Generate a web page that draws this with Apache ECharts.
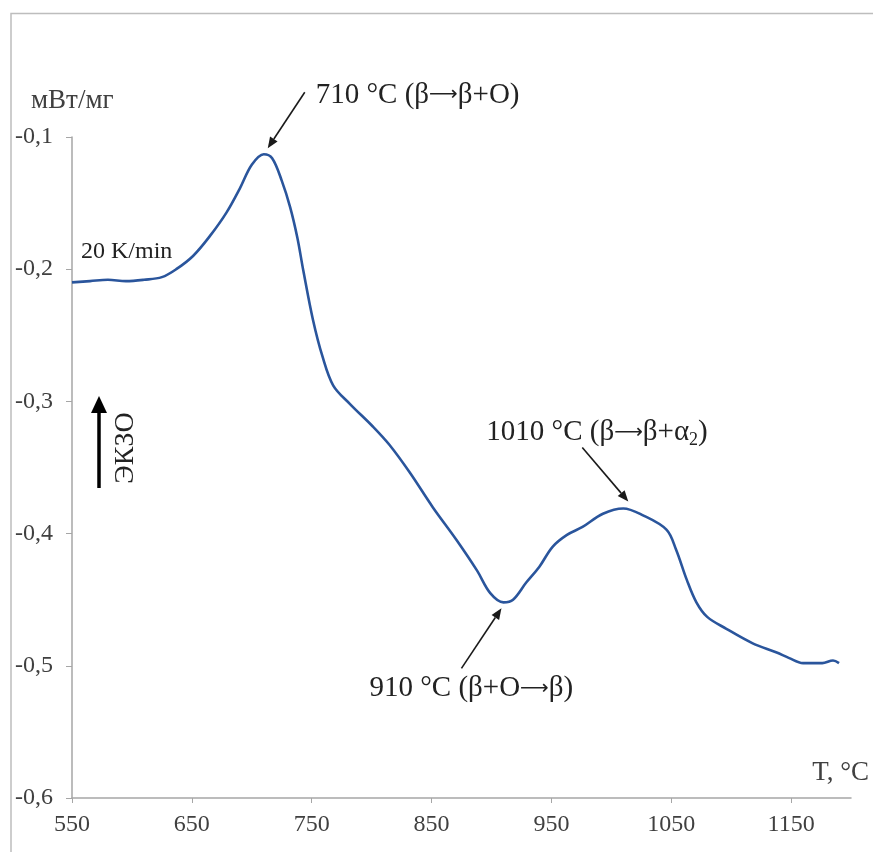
<!DOCTYPE html>
<html>
<head>
<meta charset="utf-8">
<title>ДСК: тепловой поток</title>
<script src="https://cdn.jsdelivr.net/npm/echarts@6/dist/echarts.min.js"></script>
<style>
  html, body { margin: 0; padding: 0; background: #fff; }
  #chart { width: 873px; height: 852px; }
</style>
</head>
<body>
<div id="chart"></div>
<script>
// Heating curve, 20 K/min: temperature (°C) and heat flow (mW/mg)
const temperature = [
  550, 565, 580, 595, 610, 625, 637, 651, 665, 679, 690, 700, 710, 717, 725,
  732, 738, 743, 751, 759, 768, 782, 801, 815, 832, 851, 871, 888, 899, 910,
  918, 929, 940, 951, 963, 976, 993, 1010, 1026, 1046, 1054, 1063, 1071, 1080,
  1096, 1118, 1138, 1148, 1160, 1176, 1185, 1190
];
const heatFlow = [
  -0.210, -0.209, -0.208, -0.209, -0.208, -0.206, -0.200, -0.190, -0.175, -0.157,
  -0.139, -0.121, -0.113, -0.116, -0.133, -0.153, -0.176, -0.201, -0.238, -0.266,
  -0.288, -0.302, -0.319, -0.333, -0.354, -0.380, -0.405, -0.428, -0.445, -0.452,
  -0.450, -0.437, -0.425, -0.410, -0.401, -0.395, -0.385, -0.381, -0.386, -0.397,
  -0.412, -0.435, -0.452, -0.463, -0.472, -0.483, -0.490, -0.494, -0.498, -0.498,
  -0.496, -0.498
];
const xTickValues = [550, 650, 750, 850, 950, 1050, 1150];

// Transformation peaks and their captions
const peakTemps = [710, 910, 1010];
const peakCaptions = [
  '710 °C (β{arr|⟶}β+O)',
  '910 °C (β+O{arr|⟶}β)',
  '1010 °C (β{arr|⟶}β+α{sub|2})'
];

const SERIF = "'Liberation Serif', 'Times New Roman', serif";

// Caption placement around each peak, in pixels: arrow tip, arrow tail, text anchor
const calloutLayout = [
  { tip: [4, -6],  tail: [41, -62],  text: [52, -59] },
  { tip: [-2, 6],  tail: [-42, 66],  text: [-134, 86] },
  { tip: [5, -7],  tail: [-41, -61], text: [-137, -76] }
];

const chart = echarts.init(document.getElementById('chart'), null, { renderer: 'canvas' });

const axisGrey = '#a6a6a6';
const labelGrey = '#404040';

chart.setOption({
  animation: false,
  backgroundColor: '#ffffff',
  grid: { left: 72, top: 137, right: 22, bottom: 54, containLabel: false },
  xAxis: {
    type: 'value',
    min: 550,
    max: 1200,
    axisLine: { show: true, lineStyle: { color: axisGrey, width: 1.5 } },
    axisTick: { show: true, length: 5, customValues: xTickValues, lineStyle: { color: axisGrey } },
    axisLabel: {
      customValues: xTickValues,
      margin: 15,
      color: labelGrey,
      fontFamily: SERIF,
      fontSize: 24,
      formatter: v => String(v)
    },
    splitLine: { show: false }
  },
  yAxis: {
    type: 'value',
    min: -0.6,
    max: -0.1,
    interval: 0.1,
    axisLine: { show: true, lineStyle: { color: axisGrey, width: 1.5 } },
    axisTick: { show: true, length: 6, lineStyle: { color: axisGrey } },
    axisLabel: {
      margin: 19,
      color: labelGrey,
      fontFamily: SERIF,
      fontSize: 24,
      formatter: v => v.toFixed(1).replace('.', ',')
    },
    splitLine: { show: false }
  },
  series: [{
    type: 'line',
    data: temperature.map((t, i) => [t, heatFlow[i]]),
    showSymbol: false,
    smooth: 0.35,
    lineStyle: { color: '#2a559c', width: 2.6 },
    z: 3
  }]
});

// Callout arrows and captions anchored on the peak points of the curve
function arrowHead(tip, tail, len, half) {
  const dx = tip[0] - tail[0], dy = tip[1] - tail[1];
  const d = Math.hypot(dx, dy);
  const ux = dx / d, uy = dy / d;
  const bx = tip[0] - ux * len, by = tip[1] - uy * len;
  return [tip, [bx - uy * half, by + ux * half], [bx + uy * half, by - ux * half]];
}

const graphics = [];

// Frame of the figure
graphics.push({
  type: 'polyline',
  shape: { points: [[11, 860], [11, 13.5], [880, 13.5]] },
  style: { stroke: '#bdbdbd', lineWidth: 1.5, fill: null },
  silent: true
});

peakTemps.forEach((t, k) => {
  const idx = temperature.indexOf(t);
  const p = chart.convertToPixel({ xAxisIndex: 0, yAxisIndex: 0 }, [t, heatFlow[idx]]);
  const lay = calloutLayout[k];
  const tip = [p[0] + lay.tip[0], p[1] + lay.tip[1]];
  const tail = [p[0] + lay.tail[0], p[1] + lay.tail[1]];
  const head = arrowHead(tip, tail, 11, 4.5);
  const shaftEnd = [(head[1][0] + head[2][0]) / 2, (head[1][1] + head[2][1]) / 2];
  graphics.push({
    type: 'line',
    shape: { x1: tail[0], y1: tail[1], x2: shaftEnd[0], y2: shaftEnd[1] },
    style: { stroke: '#1a1a1a', lineWidth: 1.6 },
    silent: true
  });
  graphics.push({
    type: 'polygon',
    shape: { points: head },
    style: { fill: '#1a1a1a' },
    silent: true
  });
  graphics.push({
    type: 'text',
    x: p[0] + lay.text[0],
    y: p[1] + lay.text[1],
    style: {
      text: peakCaptions[k],
      font: '29px ' + SERIF,
      fill: '#222222',
      align: 'left',
      verticalAlign: 'middle',
      lineHeight: 34,
      rich: {
        sub: { fontSize: 18, fontFamily: SERIF, verticalAlign: 'bottom', fill: '#222222' },
        arr: { fontSize: 20, fontFamily: 'DejaVu Sans', fill: '#222222' }
      }
    },
    silent: true
  });
});

// Axis titles and notes
graphics.push({
  type: 'text', x: 31, y: 101,
  style: { text: 'мВт/мг', font: '27px ' + SERIF, fill: labelGrey, verticalAlign: 'middle' },
  silent: true
});
graphics.push({
  type: 'text', x: 869, y: 773,
  style: { text: 'T, °C', font: '27px ' + SERIF, fill: labelGrey, align: 'right', verticalAlign: 'middle' },
  silent: true
});
graphics.push({
  type: 'text', x: 81, y: 252,
  style: { text: '20 K/min', font: '24px ' + SERIF, fill: '#222222', verticalAlign: 'middle' },
  silent: true
});

// Exotherm direction marker
graphics.push({
  type: 'line',
  shape: { x1: 99, y1: 488, x2: 99, y2: 410 },
  style: { stroke: '#000000', lineWidth: 3.5 },
  silent: true
});
graphics.push({
  type: 'polygon',
  shape: { points: [[99, 396], [91, 413], [107, 413]] },
  style: { fill: '#000000' },
  silent: true
});
graphics.push({
  type: 'text', x: 126, y: 448, rotation: Math.PI / 2,
  style: { text: 'ЭКЗО', font: '28px ' + SERIF, fill: '#222222', align: 'center', verticalAlign: 'middle' },
  silent: true
});

chart.setOption({ graphic: graphics });
</script>
</body>
</html>
